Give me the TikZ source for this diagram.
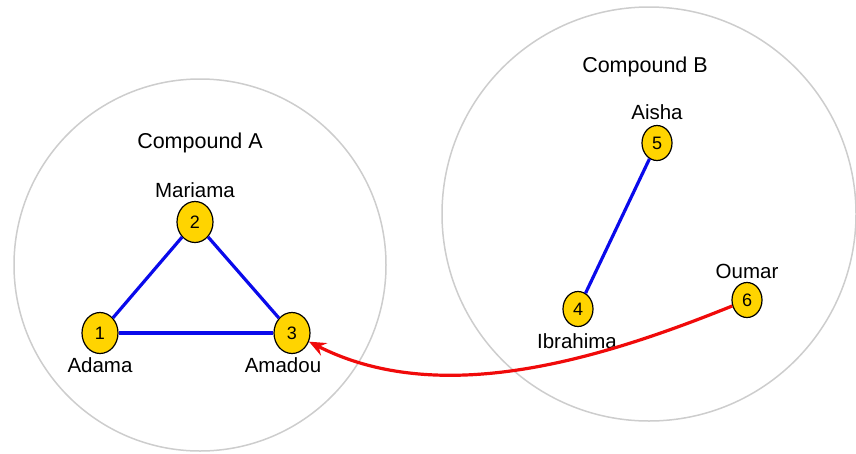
\documentclass[tikz,border=0pt]{standalone}
\usepackage{fontspec}
\setmainfont{Liberation Sans}
\usetikzlibrary{arrows.meta,shapes.geometric}
\definecolor{nodefill}{RGB}{255,212,0}
\definecolor{ringgray}{RGB}{205,205,205}
\definecolor{tieblue}{RGB}{10,10,235}
\definecolor{visitred}{RGB}{240,10,10}
\tikzset{
  person/.style={ellipse, draw=black, line width=1.2pt, fill=nodefill,
    inner sep=0pt, font=\fontsize{18}{18}\selectfont},
  bigperson/.style={person, minimum width=36pt, minimum height=41pt},
  smallperson/.style={person, minimum width=30pt, minimum height=35pt},
  personlabel/.style={font=\fontsize{20.5}{21}\selectfont, inner sep=0pt},
  compoundtitle/.style={font=\fontsize{21.5}{22}\selectfont, inner sep=0pt},
  ring/.style={draw=ringgray, line width=1.5pt},
  tie/.style={draw=tieblue, line width=3.2pt},
  visit/.style={draw=visitred, line width=3.2pt,
    -{Stealth[length=17pt, width=14pt, inset=6pt]}}
}
\begin{document}
\begin{tikzpicture}[x=1pt, y=-1pt]
  \useasboundingbox (0,0) rectangle (856,453);

  % compounds
  \draw[ring] (200,265) circle[radius=186];
  \draw[ring] (649,214) circle[radius=207];
  \node[compoundtitle] (tA) at (200,143) {Compound A};
  \node[compoundtitle] (tB) at (645,67) {Compound B};

  % members of compound A
  \node[bigperson] (n1) at (100,333) {1};
  \node[bigperson] (n2) at (195,222) {2};
  \node[bigperson] (n3) at (292,333) {3};
  \node[personlabel] (l1) at (100,365) {Adama};
  \node[personlabel] (l2) at (195,190) {Mariama};
  \node[personlabel] (l3) at (283,365) {Amadou};

  % members of compound B
  \node[smallperson] (n4) at (578,309) {4};
  \node[smallperson] (n5) at (657,143) {5};
  \node[smallperson] (n6) at (747,300) {6};
  \node[personlabel] (l4) at (577,341) {Ibrahima};
  \node[personlabel] (l5) at (657,112) {Aisha};
  \node[personlabel] (l6) at (747,271) {Oumar};

  % ties inside compounds
  \draw[tie] (n1) -- (n2);
  \draw[tie] (n2) -- (n3);
  \draw[tie] (n1) -- (n3);
  \draw[tie] (n4) -- (n5);

  % visit between compounds
  \draw[visit] (n6) to[out=202, in=-27, looseness=0.88] (n3);
\end{tikzpicture}
\end{document}
